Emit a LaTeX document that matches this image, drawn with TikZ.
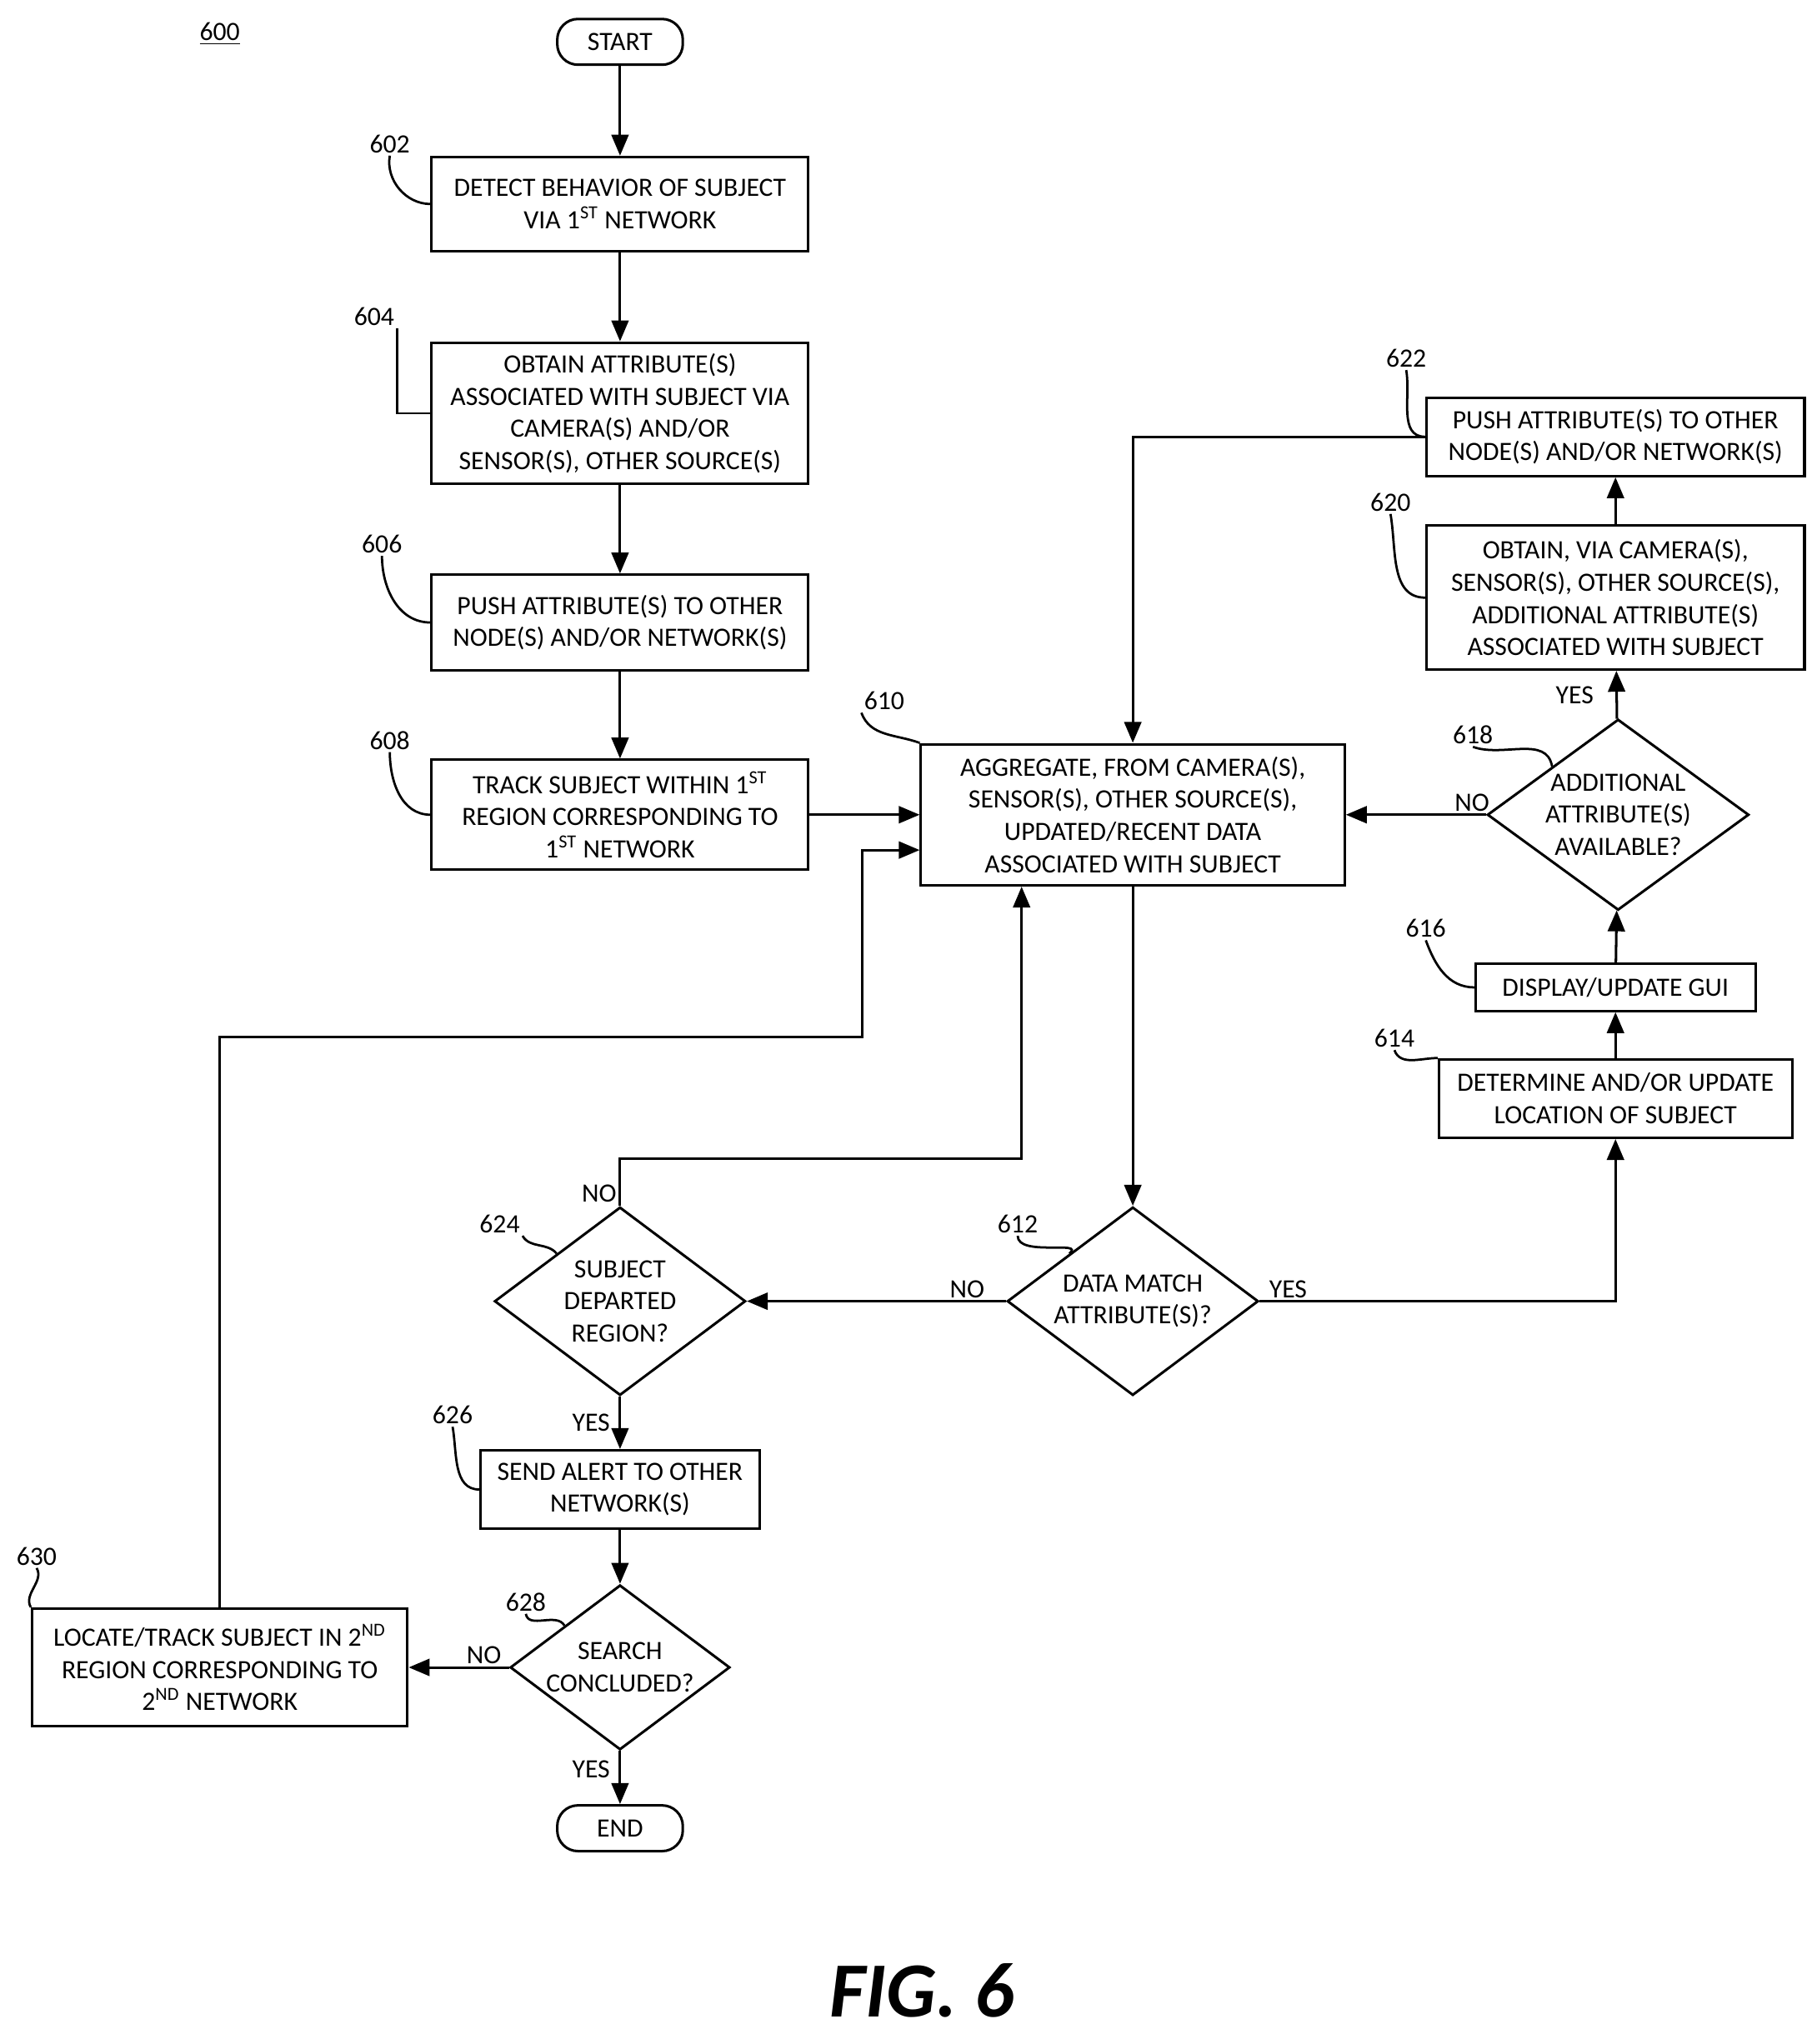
\documentclass[tikz,border=0pt]{standalone}
\usepackage{fontspec}
\setmainfont{Carlito}
\usetikzlibrary{shapes.geometric,arrows.meta}
\tikzset{
  box/.style={
    rectangle,
    draw=black,
    line width=1.1pt,
    align=center,
    inner sep=2pt,
    font=\fontsize{11.5}{14}\selectfont
  },
  term/.style={
    box,
    rounded corners=9pt,
    minimum width=1.92cm,
    minimum height=0.7cm
  },
  dec/.style={
    diamond,
    draw=black,
    line width=1.1pt,
    align=center,
    inner sep=-8pt,
    font=\fontsize{11.5}{14}\selectfont
  },
  arrow/.style={
    line width=1.1pt,
    -{Triangle[length=3.2mm,width=2.6mm]},
  },
  lead/.style={
    line width=1pt,
  },
  ref/.style={
    font=\fontsize{11.5}{14}\selectfont,
    inner sep=1pt
  },
  lab/.style={
    font=\fontsize{11.5}{14}\selectfont,
    inner sep=1pt
  },
}
\begin{document}
\begin{tikzpicture}[x=0.02cm,y=-0.02cm]
  \useasboundingbox (0,0) rectangle (1389,1563);

  % Flow boxes
  \node (start) [term] at (474,32) {START};
  \node (detect) [box, minimum width=5.76cm, minimum height=1.44cm] at (474,156)
    {DETECT BEHAVIOR OF SUBJECT\\VIA 1\textsuperscript{ST} NETWORK};
  \node (obtain) [box, minimum width=5.76cm, minimum height=2.16cm] at (474,316)
    {OBTAIN ATTRIBUTE(S)\\ASSOCIATED WITH SUBJECT VIA\\CAMERA(S) AND/OR\\SENSOR(S), OTHER SOURCE(S)};
  \node (push) [box, minimum width=5.76cm, minimum height=1.46cm] at (474,476)
    {PUSH ATTRIBUTE(S) TO OTHER\\NODE(S) AND/OR NETWORK(S)};
  \node (track) [box, minimum width=5.76cm, minimum height=1.68cm] at (474,623)
    {TRACK SUBJECT WITHIN 1\textsuperscript{ST}\\REGION CORRESPONDING TO\\1\textsuperscript{ST} NETWORK};
  \node (aggr) [box, minimum width=6.48cm, minimum height=2.16cm] at (866,623)
    {AGGREGATE, FROM CAMERA(S),\\SENSOR(S), OTHER SOURCE(S),\\UPDATED/RECENT DATA\\ASSOCIATED WITH SUBJECT};
  \node (match) [dec, minimum width=3.84cm, minimum height=2.88cm] at (866,995)
    {DATA MATCH\\ATTRIBUTE(S)?};
  \node (depart) [dec, minimum width=3.84cm, minimum height=2.88cm] at (474,995)
    {SUBJECT\\DEPARTED\\REGION?};
  \node (alert) [box, minimum width=4.26cm, minimum height=1.2cm] at (474,1139)
    {SEND ALERT TO OTHER\\NETWORK(S)};
  \node (search) [dec, minimum width=3.36cm, minimum height=2.52cm] at (474,1275)
    {SEARCH\\CONCLUDED?};
  \node (end) [term] at (474,1398) {END};
  \node (locate) [box, minimum width=5.74cm, minimum height=1.8cm] at (168,1275)
    {LOCATE/TRACK SUBJECT IN 2\textsuperscript{ND}\\REGION CORRESPONDING TO\\2\textsuperscript{ND} NETWORK};
  \node (where) [box, minimum width=5.4cm, minimum height=1.2cm] at (1235,840)
    {DETERMINE AND/OR UPDATE\\LOCATION OF SUBJECT};
  \node (gui) [box, minimum width=4.28cm, minimum height=0.72cm] at (1235,755)
    {DISPLAY/UPDATE GUI};
  \node (more) [dec, minimum width=4cm, minimum height=2.92cm] at (1237,623)
    {ADDITIONAL\\ATTRIBUTE(S)\\AVAILABLE?};
  \node (extra) [box, minimum width=5.78cm, minimum height=2.2cm] at (1235,457)
    {OBTAIN, VIA CAMERA(S),\\SENSOR(S), OTHER SOURCE(S),\\ADDITIONAL ATTRIBUTE(S)\\ASSOCIATED WITH SUBJECT};
  \node (pushmore) [box, minimum width=5.78cm, minimum height=1.2cm] at (1235,334)
    {PUSH ATTRIBUTE(S) TO OTHER\\NODE(S) AND/OR NETWORK(S)};

  % Reference numerals
  \node (n600) [ref] at (168,26) {\underline{600}};
  \node (n602) [ref] at (298,110) {602};
  \node (n604) [ref] at (286,242) {604};
  \node (n606) [ref] at (292,416) {606};
  \node (n608) [ref] at (298,566) {608};
  \node (n610) [ref] at (676,536) {610};
  \node (n612) [ref] at (778,936) {612};
  \node (n624) [ref] at (382,936) {624};
  \node (n626) [ref] at (346,1082) {626};
  \node (n628) [ref] at (402,1225) {628};
  \node (n630) [ref] at (28,1190) {630};
  \node (n614) [ref] at (1066,794) {614};
  \node (n616) [ref] at (1090,710) {616};
  \node (n618) [ref] at (1126,562) {618};
  \node (n620) [ref] at (1063,384) {620};
  \node (n622) [ref] at (1075,274) {622};
  \node (fig) [font=\bfseries\itshape\fontsize{34}{38}\selectfont] at (705,1522) {FIG. 6};

  % Leader lines
  \draw [lead] (n602.south) to[out=-100, in=180] (detect.west);
  \draw [lead] (n604.south east) |- (obtain.west);
  \draw [lead] (n606.south) to[out=-90, in=180] (push.west);
  \draw [lead] (n608.south) to[out=-90, in=180] (track.west);
  \draw [lead] (n610.south west) to[out=-70, in=160] (aggr.north west);
  \draw [lead] (n612.south) to[out=-90, in=40] (match.north west);
  \draw [lead] (n624.south east) to[out=-60, in=130] (depart.north west);
  \draw [lead] (n626.south) to[out=-80, in=180] (alert.west);
  \draw [lead] (n628.south) to[out=-80, in=120] (search.north west);
  \draw [lead] (n630.south) to[out=-60, in=120] (locate.north west);
  \draw [lead] (n614.south) to[out=-70, in=180] (where.north west);
  \draw [lead] (n616.south) to[out=-70, in=180] (gui.west);
  \draw [lead] (n618.south) to[out=-20, in=100] (more.north west);
  \draw [lead] (n620.south) to[out=-80, in=180] (extra.west);
  \draw [lead] (n622.south) to[out=-80, in=180] (pushmore.west);

  % Arrows
  \draw [arrow] (start) -- (detect);
  \draw [arrow] (detect) -- (obtain);
  \draw [arrow] (obtain) -- (push);
  \draw [arrow] (push) -- (track);
  \draw [arrow] (track) -- (aggr);
  \draw [arrow] (aggr) -- (match);
  \draw [arrow] (match) -- node[lab, pos=0.15, above] {NO} (depart);
  \draw [arrow] (match.east) -| node[lab, pos=0.04, above] {YES} (where.south);
  \draw [arrow] (where) -- (gui);
  \draw [arrow] (gui) -- (more);
  \draw [arrow] (more) -- node[lab, pos=0.5, left, xshift=-0.3cm] {YES} (extra);
  \draw [arrow] (extra) -- (pushmore);
  \draw [arrow] (more) -- node[lab, pos=0.1, above] {NO} (aggr);
  \draw [arrow] (pushmore.west) -| (aggr.north);
  \draw [arrow] (depart.north) node[lab, above left] {NO} |- (781,886) -- (aggr.south -| 781,0);
  \draw [arrow] (depart) -- node[lab, pos=0.5, left, xshift=-0.1cm] {YES} (alert);
  \draw [arrow] (alert) -- (search);
  \draw [arrow] (search) -- node[lab, pos=0.35, left, xshift=-0.1cm] {YES} (end);
  \draw [arrow] (search) -- node[lab, pos=0.25, above] {NO} (locate);
  \draw [arrow] (locate.north) |- (659,793) |- (aggr.west |- 0,650);

\end{tikzpicture}
\end{document}
